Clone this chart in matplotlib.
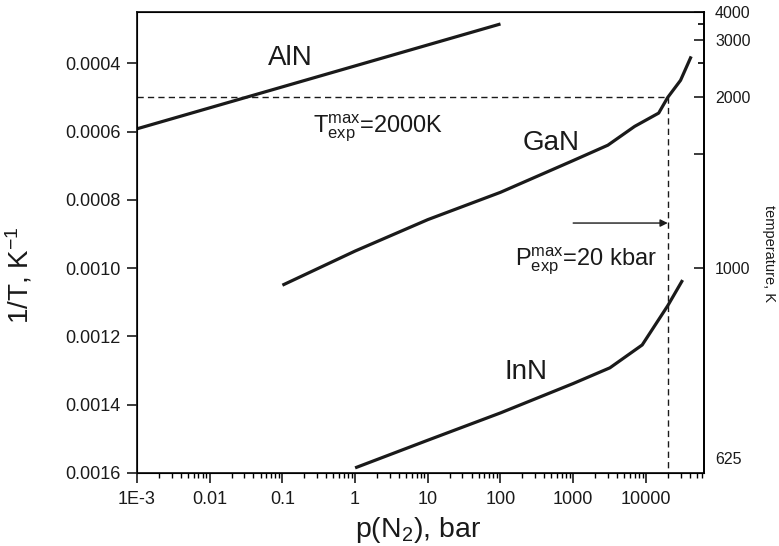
"""Nitride decomposition lines: N2 equilibrium pressure vs reciprocal temperature.

Writes out.png with AlN, GaN and InN equilibrium curves on a log-pressure axis,
the 1/T scale on the left and the matching temperature scale on the right.
"""

import matplotlib

matplotlib.use("Agg")
import matplotlib.pyplot as plt

plt.rcParams["font.family"] = ["Liberation Sans", "DejaVu Sans"]
plt.rcParams["mathtext.fontset"] = "custom"
plt.rcParams["mathtext.rm"] = "Liberation Sans"
plt.rcParams["mathtext.it"] = "Liberation Sans:italic"

# equilibrium curves: p(N2) in bar, 1/T in 1/K
ALN_P = [1e-3, 100]
ALN_INV_T = [0.000592, 0.000285]
GAN_P = [0.1, 1, 10, 100, 1000, 3000, 7000, 15000, 20000, 30000, 42000]
GAN_INV_T = [0.00105, 0.00095, 0.000858, 0.000778, 0.000685, 0.00064,
             0.000585, 0.000546, 0.0005, 0.00045, 0.00038]
INN_P = [1, 10, 100, 1000, 3200, 8900, 20000, 32000]
INN_INV_T = [0.001585, 0.001504, 0.001424, 0.001338, 0.001292, 0.001225,
             0.00111, 0.001035]

# experimental limits
T_EXP = 2000  # K
P_EXP = 20000  # bar
ARROW_FROM_P = 1000
ARROW_INV_T = 0.000868

X_TICKS = [1e-3, 1e-2, 1e-1, 1, 10, 100, 1000, 10000]
X_LABELS = ["1E-3", "0.01", "0.1", "1", "10", "100", "1000", "10000"]
Y_TICKS = [0.0004, 0.0006, 0.0008, 0.0010, 0.0012, 0.0014, 0.0016]
Y_LABELS = ["0.0004", "0.0006", "0.0008", "0.0010", "0.0012", "0.0014", "0.0016"]
T_MAJOR = [4000, 3000, 2000, 1500, 1000]
T_LABELS = ["4000", "3000", "2000", "", "1000"]
T_MINOR = [3500, 2500]
T_BOTTOM = 625

INK = "#1a1a1a"

fig = plt.figure(figsize=(7.79, 5.46), dpi=100)
ax = fig.add_axes([0.1759, 0.1337, 0.7278, 0.8443])

ax.plot(ALN_P, ALN_INV_T, color=INK, lw=2.3, solid_capstyle="butt")
ax.plot(GAN_P, GAN_INV_T, color=INK, lw=2.3, solid_capstyle="butt")
ax.plot(INN_P, INN_INV_T, color=INK, lw=2.3, solid_capstyle="butt")

ax.set_xscale("log")
ax.set_xlim(1e-3, 6.3e4)
ax.set_ylim(1 / T_BOTTOM, 0.00025)

dash = (0, (4.5, 3))
ax.plot([1e-3, P_EXP], [1 / T_EXP, 1 / T_EXP], color=INK, lw=1, ls=dash)
ax.plot([P_EXP, P_EXP], [1 / T_EXP, 1 / T_BOTTOM], color=INK, lw=1, ls=dash)
ax.annotate(
    "",
    xy=(P_EXP, ARROW_INV_T),
    xytext=(ARROW_FROM_P, ARROW_INV_T),
    arrowprops=dict(arrowstyle="-|>", color=INK, lw=1, mutation_scale=11,
                    shrinkA=0, shrinkB=0),
)

ax.text(0.127, 0.000385, "AlN", fontsize=20, ha="center", va="center", color=INK)
ax.text(496, 0.000634, "GaN", fontsize=20, ha="center", va="center", color=INK)
ax.text(224, 0.001304, "InN", fontsize=20, ha="center", va="center", color=INK)
ax.text(0.264, 0.000604, r"T$_{\mathrm{exp}}^{\mathrm{max}}$=2000K",
        fontsize=17, ha="left", va="baseline", color=INK)
ax.text(158, 0.000991, r"P$_{\mathrm{exp}}^{\mathrm{max}}$=20 kbar",
        fontsize=17, ha="left", va="baseline", color=INK)

ax.set_xticks(X_TICKS, X_LABELS)
ax.set_yticks(Y_TICKS, Y_LABELS)
ax.yaxis.set_minor_locator(matplotlib.ticker.NullLocator())
ax.tick_params(axis="both", which="major", direction="out", length=7,
               width=1.2, labelsize=13, colors=INK, pad=5)
ax.tick_params(axis="x", which="minor", direction="out", length=3.5, width=1)
ax.tick_params(axis="x", which="major", pad=6)
for side in ["left", "right", "top", "bottom"]:
    ax.spines[side].set_linewidth(1.3)
    ax.spines[side].set_color(INK)

ax.set_xlabel(r"p(N$_2$), bar", fontsize=20.5, color=INK)
ax.xaxis.set_label_coords(0.496, -0.092)
ax.set_ylabel(r"1/T, K$^{-1}$", fontsize=20, color=INK)
ax.yaxis.set_label_coords(-0.18, 0.43)

# temperature scale on the right, same 1/T positions
ax2 = ax.twinx()
ax2.set_ylim(ax.get_ylim())
ax2.set_yticks([1 / t for t in T_MAJOR], T_LABELS)
ax2.set_yticks([1 / t for t in T_MINOR], minor=True)
ax2.tick_params(axis="y", which="major", direction="in", length=7, width=1.2,
                labelsize=11.5, colors=INK, pad=8)
ax2.tick_params(axis="y", which="minor", direction="in", length=4, width=1.2)
ax2.spines["right"].set_linewidth(1.3)
ax2.annotate(str(T_BOTTOM), xy=(1, 1 / T_BOTTOM),
             xycoords=("axes fraction", "data"), xytext=(8, 10),
             textcoords="offset points", fontsize=11.5, color=INK,
             va="center", ha="left")
ax2.set_ylabel("temperature, K", fontsize=10.5, rotation=270, color=INK,
               va="center")
ax2.yaxis.set_label_coords(1.115, 0.477)

fig.savefig("out.png", dpi=100)
plt.close(fig)
